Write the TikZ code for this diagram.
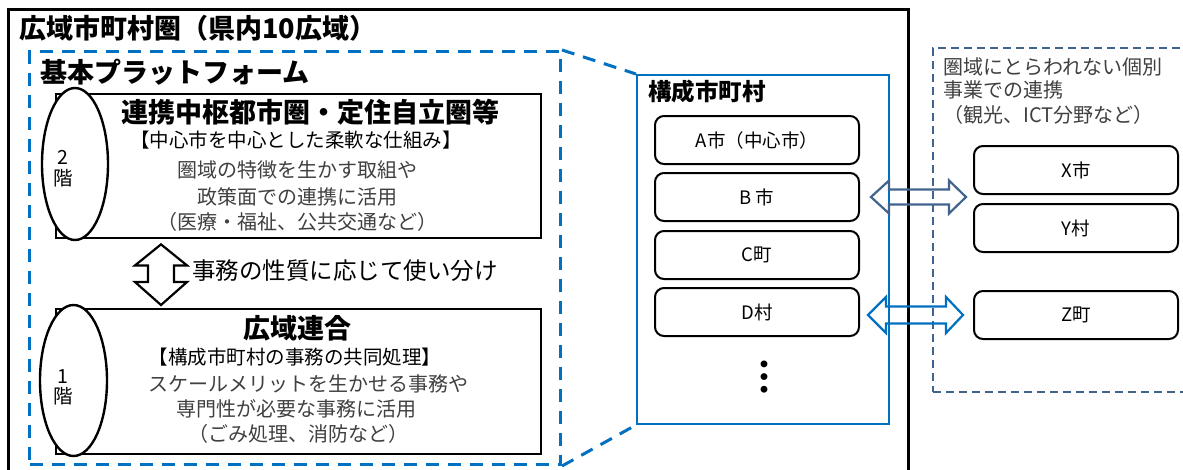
\documentclass[tikz,border=0pt]{standalone}
\usepackage{fontspec}
\setmainfont{Noto Sans CJK JP}
\usetikzlibrary{shapes.geometric,calc}
\definecolor{obl}{HTML}{0070C0}
\definecolor{slate}{HTML}{41648F}
\definecolor{gtx}{HTML}{404040}
\newcommand\fs[2]{\fontsize{#1}{#2}\selectfont}
\begin{document}
\begin{tikzpicture}[x=1pt,y=-1pt,
  every node/.style={inner sep=0pt},
  lbox/.style={draw, line width=2.4pt, minimum width=485, anchor=north west},
  oval/.style={ellipse, draw, line width=2.4pt, fill=white},
  rbox/.style={draw, line width=2pt, rounded corners=9pt, minimum width=204, minimum height=48, font=\fs{18.5}{22}},
  bdash/.style={draw=obl, line width=3pt, dash pattern=on 13pt off 9pt},
  gtext/.style={text=gtx, font=\fs{20}{24}},
  hollow/.style={line width=2.2pt, line join=miter}]
\useasboundingbox (0,0) rectangle (1183,469);
\clip (0,0) rectangle (1183,469);
\fill[white] (0,0) rectangle (1183,469);

% outer frame
\node[draw, line width=2.5pt, minimum width=900, minimum height=480, anchor=north west] (outer) at (7,8) {};
\node[anchor=west, font=\bfseries\fs{27}{30}] (title) at (19,28) {広域市町村圏（県内10広域）};

% platform
\node[bdash, minimum width=531, minimum height=413, anchor=north west] (plat) at (28,50) {};
\node[anchor=west, font=\bfseries\fs{27}{30}] (platlbl) at (40,72) {基本プラットフォーム};

% tier 2
\node[lbox, minimum height=144] (tier2) at (55,93) {};
\node[oval, minimum width=66, minimum height=152] (e2) at (75,164) {};
\node[align=center, font=\fs{19.5}{21}] (l2) at (63,169) {2\\階};
\node[font=\bfseries\fs{27}{30}] (t2a) at (310,112) {連携中枢都市圏・定住自立圏等};
\node[font=\fs{19.5}{23}] (t2b) at (296,140) {【中心市を中心とした柔軟な仕組み】};
\node[gtext] (t2c) at (297,170) {圏域の特徴を生かす取組や};
\node[gtext] (t2d) at (297,197) {政策面での連携に活用};
\node[gtext] (t2e) at (297,222) {（医療・福祉、公共交通など）};

% tier 1
\node[lbox, minimum height=145] (tier1) at (55,308) {};
\node[oval, minimum width=67, minimum height=151] (e1) at (73.5,380.5) {};
\node[align=center, font=\fs{19.5}{20}] (l1) at (63,387) {1\\階};
\node[font=\bfseries\fs{27}{30}] (t1a) at (297,328) {広域連合};
\node[font=\fs{19.5}{23}] (t1b) at (295,357) {【構成市町村の事務の共同処理】};
\node[gtext] (t1c) at (308,384) {スケールメリットを生かせる事務や};
\node[gtext] (t1d) at (296,409) {専門性が必要な事務に活用};
\node[gtext] (t1e) at (298,434) {（ごみ処理、消防など）};

% vertical double arrow
\coordinate (vt) at ($(tier2.south west)+(106,5)$);
\coordinate (vb) at ($(tier1.north west)+(106,-3)$);
\draw[hollow] let \p1=(vt), \p2=(vb) in
  (\x1,\y1) -- (\x1+26pt,\y1-21pt) -- (\x1+13pt,\y1-21pt) -- (\x1+13pt,\y2+23pt)
  -- (\x1+26pt,\y2+23pt) -- (\x1,\y2) -- (\x1-26pt,\y2+23pt) -- (\x1-13pt,\y2+23pt)
  -- (\x1-13pt,\y1-21pt) -- (\x1-26pt,\y1-21pt) -- cycle;
\node[anchor=west, font=\fs{23.5}{27}] (use) at (192,271) {事務の性質に応じて使い分け};

% member municipalities
\node[draw=obl, line width=2pt, minimum width=252, minimum height=349, anchor=north west, fill=white] (kosei) at (636,74) {};
\draw[bdash] (plat.north east) -- (kosei.north west);
\draw[bdash] (plat.south east) -- (kosei.south west);
\node[anchor=west, font=\bfseries\fs{23.5}{27}] (koseilbl) at (648,92) {構成市町村};
\node[rbox] (A) at (757,140) {A市（中心市）};
\node[rbox] (B) at (757,197) {B 市};
\node[rbox] (C) at (757,255) {C町};
\node[rbox] (D) at (757,312) {D村};
\node[font=\bfseries\fs{38}{38}] (dots) at (764,377) {︙};

% individual cooperation
\node[draw=slate, line width=1.6pt, dash pattern=on 8pt off 5pt, minimum width=270, minimum height=344, anchor=north west] (indiv) at (932,47) {};
\node[gtext, anchor=west] (i1) at (943,67) {圏域にとらわれない個別};
\node[gtext, anchor=west] (i2) at (943,90) {事業での連携};
\node[gtext, anchor=west] (i3) at (943,115) {（観光、ICT分野など）};
\node[rbox] (X) at (1076,170) {X市};
\node[rbox] (Y) at (1076,228) {Y村};
\node[rbox] (Z) at (1076,315) {Z町};

% horizontal double arrows
\draw[hollow, draw=slate] let \p1=(B.east), \p2=(X.west) in
  (\x1+11pt,\y1) -- (\x1+29pt,\y1+16.5pt) -- (\x1+29pt,\y1+7.5pt) -- (\x2-24pt,\y1+7.5pt)
  -- (\x2-24pt,\y1+16.5pt) -- (\x2-7pt,\y1) -- (\x2-24pt,\y1-16.5pt) -- (\x2-24pt,\y1-7.5pt)
  -- (\x1+29pt,\y1-7.5pt) -- (\x1+29pt,\y1-16.5pt) -- cycle;
\draw[hollow, draw=obl] let \p1=(D.east), \p2=(Z.west) in
  (\x1+8pt,\y2) -- (\x1+26pt,\y2+18pt) -- (\x1+26pt,\y2+8.5pt) -- (\x2-27pt,\y2+8.5pt)
  -- (\x2-27pt,\y2+18pt) -- (\x2-10pt,\y2) -- (\x2-27pt,\y2-18pt) -- (\x2-27pt,\y2-8.5pt)
  -- (\x1+26pt,\y2-8.5pt) -- (\x1+26pt,\y2-18pt) -- cycle;
\end{tikzpicture}
\end{document}
